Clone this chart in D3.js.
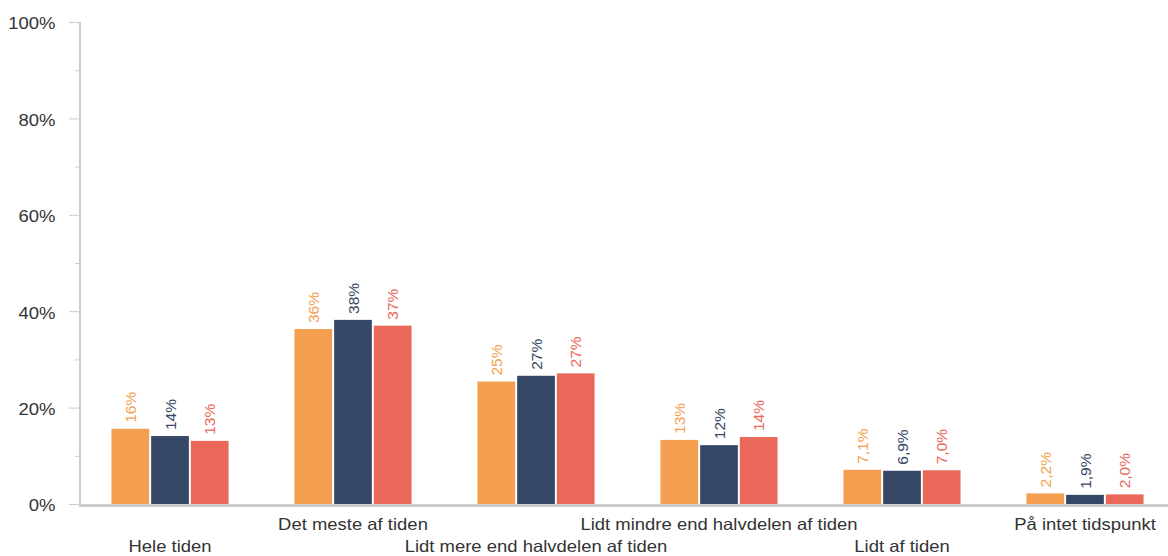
<!DOCTYPE html>
<html><head><meta charset="utf-8">
<script src="https://cdn.jsdelivr.net/npm/d3@7"></script>
<style>body{margin:0;background:#fff}svg{display:block;font-family:"Liberation Sans",Arial,sans-serif}</style>
</head><body>
<svg id="c" width="1168" height="556"></svg>
<script>
const categories = ["Hele tiden","Det meste af tiden","Lidt mere end halvdelen af tiden","Lidt mindre end halvdelen af tiden","Lidt af tiden","På intet tidspunkt"];
const seriesA = [15.6, 36.3, 25.4, 13.3, 7.1, 2.2];
const seriesB = [14.1, 38.2, 26.6, 12.2, 6.9, 1.9];
const seriesC = [13.1, 37.0, 27.1, 13.9, 7.0, 2.0];
const yTicks = [0,20,40,60,80,100];
const yMinor = [10,30,50,70,90];
const colors = ["#F49F50","#364765","#EA685A"];

const series = [seriesA, seriesB, seriesC];
const svg = d3.select("#c");
const y = d3.scaleLinear().domain([0,100]).range([504,22]);
const x0 = d3.scaleBand().domain(categories).range([78.5,1176.5]).paddingInner(0.36).paddingOuter(0.18);
const x1 = d3.scaleBand().domain([0,1,2]).range([0,x0.bandwidth()]).paddingInner(0.05);
const SX = 1.12;

const fmt = v => v >= 10 ? Math.round(v) + "%" : v.toFixed(1).replace(".", ",") + "%";

// y axis
const ax = svg.append("g");
ax.append("line").attr("x1",80).attr("x2",80).attr("y1",y(100)).attr("y2",506).attr("stroke","#ccc").attr("stroke-width",2);
ax.selectAll(".maj").data(yTicks).join("line").attr("x1",69).attr("x2",80).attr("y1",d=>y(d)+0.5).attr("y2",d=>y(d)+0.5).attr("stroke","#ccc").attr("stroke-width",1);
ax.selectAll(".min").data(yMinor).join("line").attr("x1",75).attr("x2",80).attr("y1",d=>y(d)+0.5).attr("y2",d=>y(d)+0.5).attr("stroke","#ccc").attr("stroke-width",1);
ax.selectAll("text").data(yTicks).join("text").attr("transform",d=>`translate(55.5,${y(d)+7.3}) scale(${SX},1)`).attr("text-anchor","end").attr("font-size",16.5).attr("fill","#333").text(d=>d+"%");

// bars
const g = svg.append("g");
categories.forEach((c,i)=>{
  series.forEach((s,k)=>{
    const bx = x0(c)+x1(k);
    g.append("rect").attr("x",bx).attr("y",y(s[i])).attr("width",x1.bandwidth()).attr("height",504-y(s[i])).attr("fill",colors[k]);
    g.append("text").attr("transform",`translate(${bx+x1.bandwidth()/2+5.5},${y(s[i])-6}) rotate(-90)`)
      .attr("font-size",15.5).attr("fill",colors[k]).text(fmt(s[i]));
  });
});

// x axis
svg.append("line").attr("x1",79).attr("x2",1168).attr("y1",505.5).attr("y2",505.5).attr("stroke","#ccc").attr("stroke-width",3);
svg.selectAll(".xl").data(categories).join("text").attr("transform",(d,i)=>`translate(${x0(d)+x0.bandwidth()/2},${i%2?530:551.5}) scale(${SX},1)`)
  .attr("text-anchor","middle").attr("font-size",16.5).attr("fill","#333").text(d=>d);
</script>
</body></html>
